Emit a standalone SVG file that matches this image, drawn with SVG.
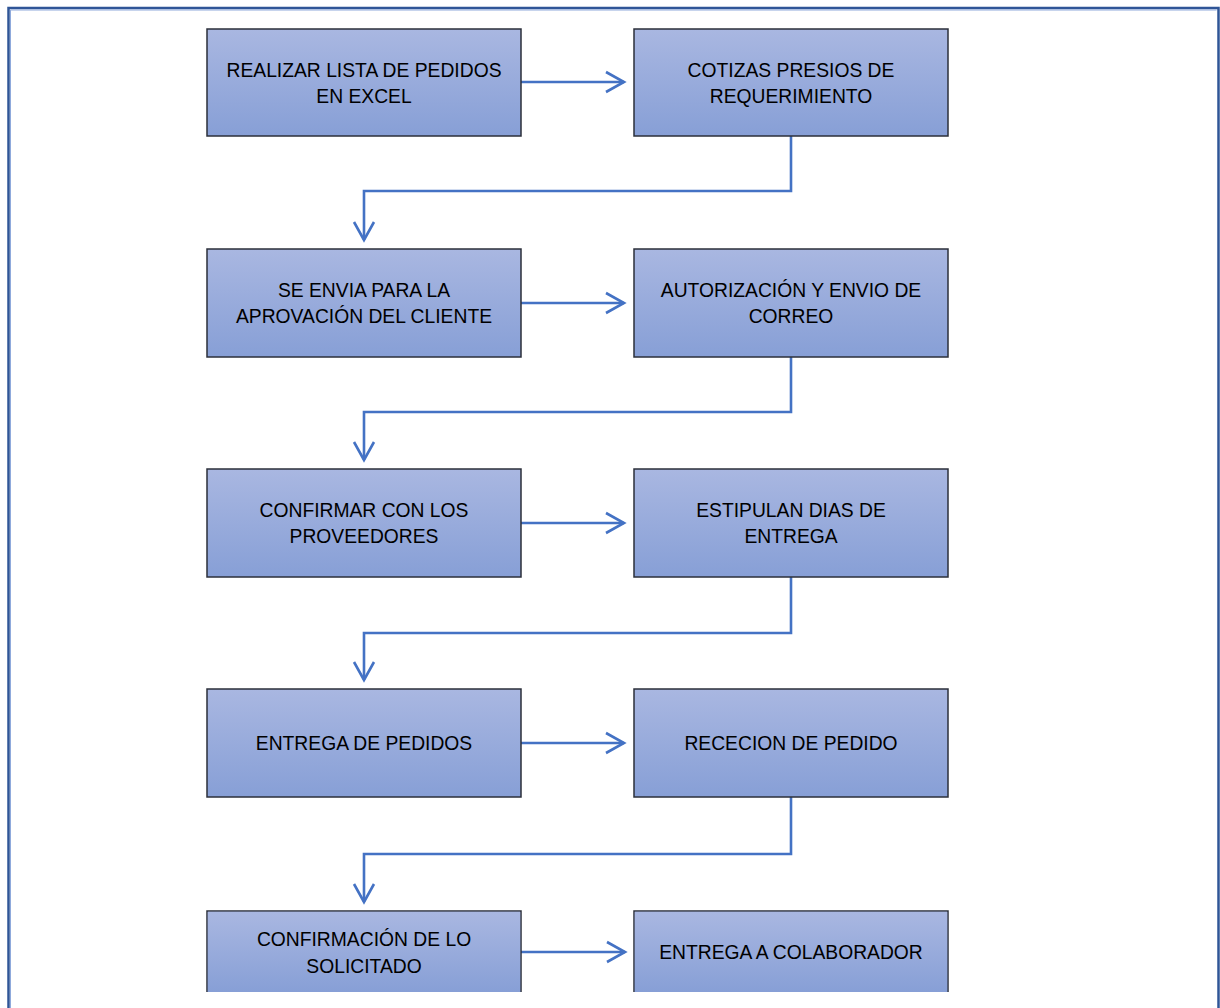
<svg xmlns="http://www.w3.org/2000/svg" width="1220" height="1008" viewBox="0 0 1220 1008">
  <defs>
    <linearGradient id="boxFill" x1="0" y1="0" x2="0" y2="1">
      <stop offset="0" stop-color="#a9b7e1"/>
      <stop offset="1" stop-color="#879fd6"/>
    </linearGradient>
    <marker id="chev" markerWidth="24" markerHeight="24" viewBox="-20 -12 24 24" refX="0" refY="0" orient="auto" markerUnits="userSpaceOnUse">
      <path d="M-18,-10 L0,0 L-18,10" fill="none" stroke="#4472c4" stroke-width="2.6"/>
    </marker>
    <style>
      .box { fill: url(#boxFill); stroke: #2b2f3a; stroke-width: 1.5; }
      .lbl { font-family: "Liberation Sans", Arial, sans-serif; font-size: 19.3px; fill: #000; text-anchor: middle; }
      .conn { fill: none; stroke: #4472c4; stroke-width: 2.6; }
    </style>
  </defs>

  <rect width="1220" height="1008" fill="#ffffff"/>

  <!-- page frame (open at the bottom) -->
  <path d="M8.5,1008 V8 H1218.5 V1008" fill="none" stroke="#2f5597" stroke-width="2.5"/>
  <path d="M10.5,1008 V10 H1216.5" fill="none" stroke="#8faadc" stroke-width="1"/>

  <g id="connectors">
    <path class="conn" d="M521,82 H624" marker-end="url(#chev)"/>
    <path class="conn" d="M791,136 V191 H364 V240" marker-end="url(#chev)"/>
    <path class="conn" d="M521,303 H624" marker-end="url(#chev)"/>
    <path class="conn" d="M791,357 V412 H364 V460" marker-end="url(#chev)"/>
    <path class="conn" d="M521,523 H624" marker-end="url(#chev)"/>
    <path class="conn" d="M791,577 V633 H364 V680" marker-end="url(#chev)"/>
    <path class="conn" d="M521,743 H624" marker-end="url(#chev)"/>
    <path class="conn" d="M791,797 V854 H364 V902" marker-end="url(#chev)"/>
    <path class="conn" d="M521,952 H625" marker-end="url(#chev)"/>
  </g>

  <g id="n1">
    <rect class="box" x="207" y="29" width="314" height="107"/>
    <text class="lbl" x="364" y="77">REALIZAR LISTA DE PEDIDOS</text>
    <text class="lbl" x="364" y="103">EN EXCEL</text>
  </g>
  <g id="n2">
    <rect class="box" x="634" y="29" width="314" height="107"/>
    <text class="lbl" x="791" y="77">COTIZAS PRESIOS DE</text>
    <text class="lbl" x="791" y="103">REQUERIMIENTO</text>
  </g>
  <g id="n3">
    <rect class="box" x="207" y="249" width="314" height="108"/>
    <text class="lbl" x="364" y="297">SE ENVIA PARA LA</text>
    <text class="lbl" x="364" y="323">APROVACIÓN DEL CLIENTE</text>
  </g>
  <g id="n4">
    <rect class="box" x="634" y="249" width="314" height="108"/>
    <text class="lbl" x="791" y="297">AUTORIZACIÓN Y ENVIO DE</text>
    <text class="lbl" x="791" y="323">CORREO</text>
  </g>
  <g id="n5">
    <rect class="box" x="207" y="469" width="314" height="108"/>
    <text class="lbl" x="364" y="517">CONFIRMAR CON LOS</text>
    <text class="lbl" x="364" y="543">PROVEEDORES</text>
  </g>
  <g id="n6">
    <rect class="box" x="634" y="469" width="314" height="108"/>
    <text class="lbl" x="791" y="517">ESTIPULAN DIAS DE</text>
    <text class="lbl" x="791" y="543">ENTREGA</text>
  </g>
  <g id="n7">
    <rect class="box" x="207" y="689" width="314" height="108"/>
    <text class="lbl" x="364" y="750">ENTREGA DE PEDIDOS</text>
  </g>
  <g id="n8">
    <rect class="box" x="634" y="689" width="314" height="108"/>
    <text class="lbl" x="791" y="750">RECECION DE PEDIDO</text>
  </g>
  <g id="n9">
    <path class="box" d="M207,992 V911 H521 V992" />
    <rect x="207.8" y="911.8" width="312.4" height="80.2" fill="url(#boxFill)"/>
    <text class="lbl" x="364" y="946">CONFIRMACIÓN DE LO</text>
    <text class="lbl" x="364" y="973">SOLICITADO</text>
  </g>
  <g id="n10">
    <path class="box" d="M634,992 V911 H948 V992" />
    <rect x="634.8" y="911.8" width="312.4" height="80.2" fill="url(#boxFill)"/>
    <text class="lbl" x="791" y="959">ENTREGA A COLABORADOR</text>
  </g>
</svg>
